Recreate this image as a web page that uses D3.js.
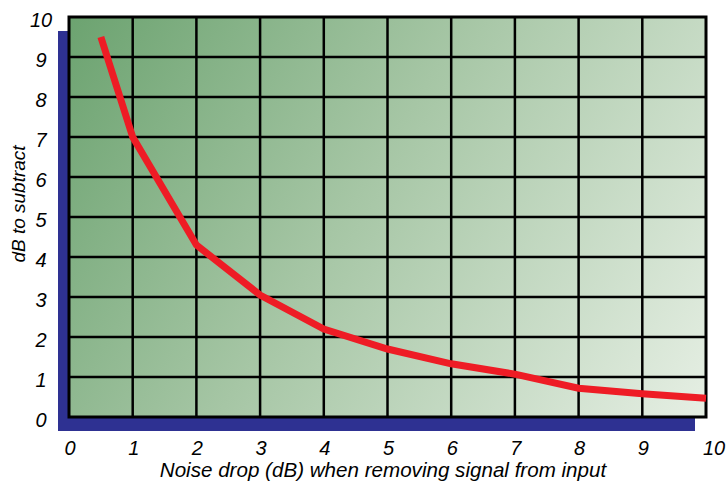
<!DOCTYPE html>
<html><head><meta charset="utf-8">
<script src="https://cdn.jsdelivr.net/npm/d3@7"></script>
<style>body{margin:0;background:#fff}svg{display:block}</style>
</head><body>
<svg id="c" width="726" height="483"></svg>
<script>
const xTicks = [0,1,2,3,4,5,6,7,8,9,10];
const yTicks = [0,1,2,3,4,5,6,7,8,9,10];
const noiseDrop = [0.5, 1, 2, 3, 4, 5, 6, 7, 8, 9, 10];
const dbSubtract = [9.5, 7.0, 4.3, 3.05, 2.2, 1.7, 1.33, 1.07, 0.72, 0.58, 0.47];
const xTitle = "Noise drop (dB) when removing signal from input";
const yTitle = "dB to subtract";

const FONT = "'Liberation Sans', Arial, Helvetica, sans-serif";
const svg = d3.select("#c");
const L = 69, R = 706, T = 17, B = 417;
const x = d3.scaleLinear().domain([0,10]).range([L,R]);
const y = d3.scaleLinear().domain([0,10]).range([B,T]);

const defs = svg.append("defs");
const g = defs.append("linearGradient").attr("id","bg")
  .attr("gradientUnits","userSpaceOnUse")
  .attr("x1",L).attr("y1",T).attr("x2",R).attr("y2",B);
g.append("stop").attr("offset","0").attr("stop-color","#6ca370");
g.append("stop").attr("offset","0.45").attr("stop-color","#a6c6a5");
g.append("stop").attr("offset","1").attr("stop-color","#e6efe4");

svg.append("rect").attr("x",L-11).attr("y",T+14).attr("width",R-L).attr("height",B-T).attr("fill","#2e3192");
svg.append("rect").attr("x",L).attr("y",T).attr("width",R-L).attr("height",B-T).attr("fill","url(#bg)");

svg.append("g").selectAll("line").data(xTicks.slice(1,-1)).join("line")
  .attr("x1",d=>x(d)).attr("x2",d=>x(d)).attr("y1",T).attr("y2",B)
  .attr("stroke","#000").attr("stroke-width",2.5);
svg.append("g").selectAll("line").data(yTicks.slice(1,-1)).join("line")
  .attr("y1",d=>y(d)).attr("y2",d=>y(d)).attr("x1",L).attr("x2",R)
  .attr("stroke","#000").attr("stroke-width",2.5);
svg.append("rect").attr("x",L).attr("y",T).attr("width",R-L).attr("height",B-T)
  .attr("fill","none").attr("stroke","#000").attr("stroke-width",3);

const pts = noiseDrop.map((d,i)=>[d, dbSubtract[i]]);
svg.append("path").datum(pts)
  .attr("d", d3.line().x(d=>x(d[0])).y(d=>y(d[1])))
  .attr("fill","none").attr("stroke","#ee1c25").attr("stroke-width",7);

function txt(sel){ return sel.attr("font-family",FONT).attr("font-style","italic").attr("fill","#000"); }

txt(svg.append("g").selectAll("text").data(yTicks).join("text"))
  .attr("x",41).attr("y",d=>y(d)+10).attr("text-anchor","middle")
  .attr("font-size",20).text(d=>d);
txt(svg.append("g").selectAll("text").data(xTicks).join("text"))
  .attr("x",d=>x(d)+(d===10?8:1)).attr("y",455).attr("text-anchor","middle")
  .attr("font-size",20).text(d=>d);

txt(svg.append("text")).attr("x",383).attr("y",477).attr("text-anchor","middle")
  .attr("font-size",20.6).text(xTitle);
txt(svg.append("text")).attr("transform","translate(25,204) rotate(-90)").attr("text-anchor","middle")
  .attr("font-size",19).text(yTitle);
</script>
</body></html>
